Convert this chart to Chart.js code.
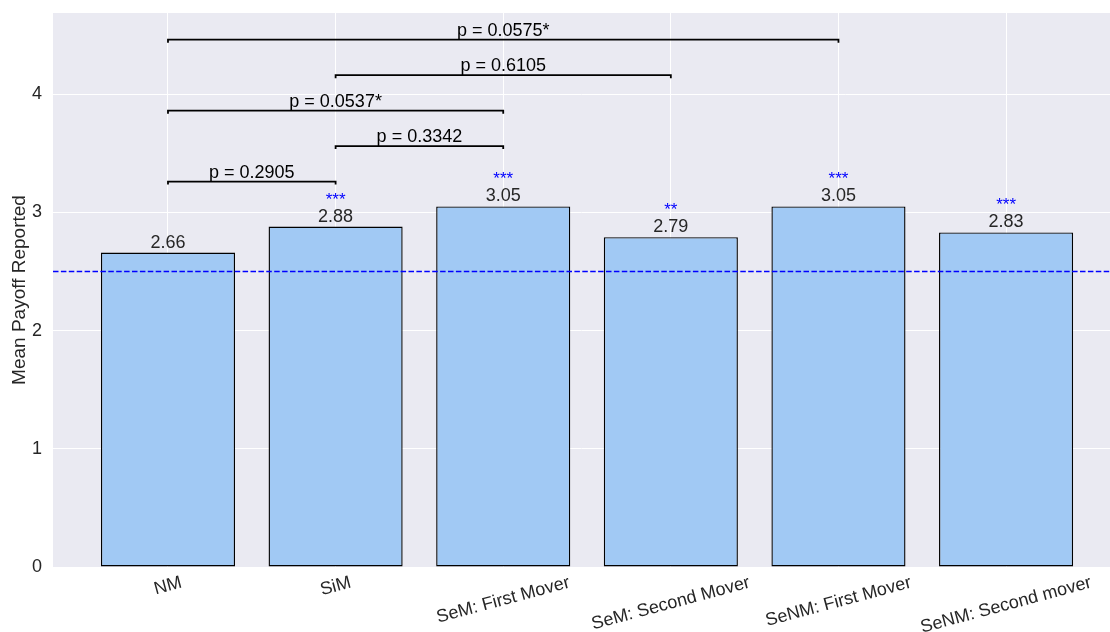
<!DOCTYPE html>
<html>
<head>
<meta charset="utf-8">
<script src="https://cdn.jsdelivr.net/npm/chart.js@4/dist/chart.umd.min.js"></script>
<style>
  html, body { margin: 0; padding: 0; background: #fff; }
  #wrap { width: 1110px; height: 632px; }
</style>
</head>
<body>
<div id="wrap"><canvas id="payoffChart" width="1110" height="632"></canvas></div>
<script>
// --- DATA ---
const categories = ['NM', 'SiM', 'SeM: First Mover', 'SeM: Second Mover', 'SeNM: First Mover', 'SeNM: Second mover'];
const meanPayoff = [2.66, 2.88, 3.05, 2.79, 3.05, 2.83];
const stars = ['', '***', '***', '**', '***', '***'];
const baselineValue = 2.5;
const yTicks = [0, 1, 2, 3, 4];

// significance brackets (category index from/to, height, label)
const bracketFrom = [0, 1, 0, 1, 0];
const bracketTo = [1, 2, 2, 3, 4];
const bracketY = [3.26, 3.56, 3.86, 4.16, 4.46];
const bracketText = ['p = 0.2905', 'p = 0.3342', 'p = 0.0537*', 'p = 0.6105', 'p = 0.0575*'];

const FONT = '"Liberation Sans", Arial, sans-serif';
const TEXT_DARK = '#262626';

// plot background (seaborn darkgrid)
const bgPlugin = {
    id: 'plotBg',
    beforeDraw(chart) {
        const { ctx, chartArea: a } = chart;
        ctx.save();
        ctx.fillStyle = '#EAEAF2';
        ctx.fillRect(a.left, a.top, a.right - a.left, a.bottom - a.top);
        ctx.restore();
    }
};

// dashed line, value labels, stars, brackets, rotated x labels
const annotPlugin = {
    id: 'annot',
    afterDatasetsDraw(chart) {
        const { ctx, chartArea: a, scales: { x, y } } = chart;
        ctx.save();

        // reference line
        const yb = y.getPixelForValue(baselineValue);
        ctx.strokeStyle = '#0000FF';
        ctx.lineWidth = 1.5;
        ctx.setLineDash([5.5, 2.4]);
        ctx.beginPath();
        ctx.moveTo(a.left, yb);
        ctx.lineTo(a.right, yb);
        ctx.stroke();
        ctx.setLineDash([]);

        // value labels + stars
        ctx.textAlign = 'center';
        ctx.textBaseline = 'alphabetic';
        meanPayoff.forEach((v, i) => {
            const px = x.getPixelForValue(i);
            const top = y.getPixelForValue(v);
            ctx.fillStyle = TEXT_DARK;
            ctx.font = '18px ' + FONT;
            ctx.fillText(v.toFixed(2), px, top - 5);
            if (stars[i]) {
                ctx.fillStyle = '#0000FF';
                ctx.font = '17px ' + FONT;
                ctx.fillText(stars[i], px, top - 22);
            }
        });

        // brackets
        ctx.strokeStyle = '#000';
        ctx.lineWidth = 1.8;
        ctx.fillStyle = '#000';
        ctx.font = '18px ' + FONT;
        bracketFrom.forEach((f, k) => {
            const x1 = x.getPixelForValue(f);
            const x2 = x.getPixelForValue(bracketTo[k]);
            const py = y.getPixelForValue(bracketY[k]);
            ctx.beginPath();
            ctx.moveTo(x1, py + 3);
            ctx.lineTo(x1, py);
            ctx.lineTo(x2, py);
            ctx.lineTo(x2, py + 3);
            ctx.stroke();
            ctx.fillText(bracketText[k], (x1 + x2) / 2, py - 4);
        });

        // x tick labels, rotated 15 degrees, centred under the tick
        ctx.fillStyle = TEXT_DARK;
        ctx.font = '18px ' + FONT;
        ctx.textAlign = 'center';
        ctx.textBaseline = 'middle';
        const rot = 15 * Math.PI / 180;
        categories.forEach((c, i) => {
            const px = x.getPixelForValue(i);
            const w = ctx.measureText(c).width;
            const h = 18 * 1.2;
            const H = w * Math.sin(rot) + h * Math.cos(rot);
            ctx.save();
            ctx.translate(px, a.bottom + 5 + H / 2);
            ctx.rotate(-rot);
            ctx.fillText(c, 0, 0);
            ctx.restore();
        });

        ctx.restore();
    }
};

const ctx = document.getElementById('payoffChart').getContext('2d');
const myChart = new Chart(ctx, {
    type: 'bar',
    data: {
        datasets: [{
            data: meanPayoff.map((v, i) => ({ x: i, y: v })),
            backgroundColor: '#A1C9F4',
            borderColor: '#000',
            borderWidth: 1.4,
            borderSkipped: false,
            barPercentage: 0.8,
            categoryPercentage: 1.0
        }]
    },
    options: {
        responsive: false,
        animation: false,
        devicePixelRatio: 1,
        layout: { padding: { top: 13, right: 0, left: 0, bottom: 0 } },
        plugins: { legend: { display: false }, tooltip: { enabled: false } },
        scales: {
            x: {
                type: 'linear',
                offset: false,
                min: -0.686,
                max: 5.62,
                afterBuildTicks: s => { s.ticks = categories.map((c, i) => ({ value: i })); },
                afterFit: s => { s.height = 65; s.paddingLeft = 0; s.paddingRight = 0; },
                ticks: { display: false },
                grid: { color: '#fff', lineWidth: 1, drawTicks: false, offset: false },
                border: { display: false }
            },
            y: {
                min: 0,
                max: 4.686,
                afterBuildTicks: s => { s.ticks = yTicks.map(v => ({ value: v })); },
                afterFit: s => { s.width = 53; s.paddingTop = 0; s.paddingBottom = 0; },
                ticks: { color: TEXT_DARK, font: { family: FONT, size: 18 }, padding: 11 },
                grid: { color: '#fff', lineWidth: 1, drawTicks: false },
                border: { display: false },
                title: {
                    display: true,
                    text: 'Mean Payoff Reported',
                    color: TEXT_DARK,
                    font: { family: FONT, size: 19 },
                    padding: { top: 8, bottom: 0 }
                }
            }
        }
    },
    plugins: [bgPlugin, annotPlugin]
});
</script>
</body>
</html>
